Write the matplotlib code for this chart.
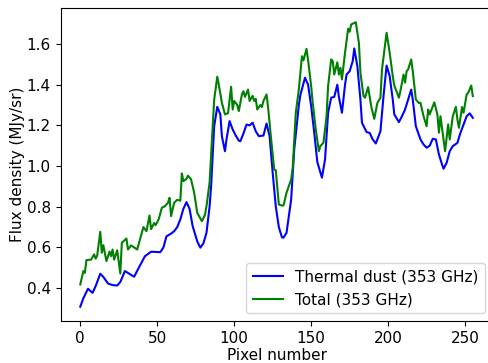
import matplotlib
matplotlib.use("Agg")
import matplotlib.pyplot as plt

# thermal dust (353 GHz): pixel number, flux density
dust_px = [0, 2, 5, 8, 10, 13, 15, 18, 21, 24, 26, 29, 32, 35, 38, 42, 46, 49, 52, 54,
           56, 59, 61, 63, 65, 67, 69, 71, 73, 76, 78, 80, 82, 84, 85, 87, 89, 91, 92, 94,
           95, 97, 99, 101, 103, 104, 106, 108, 110, 112, 114, 116, 119, 121, 123, 125, 127, 129, 131, 132,
           134, 137, 139, 142, 143, 146, 148, 150, 152, 154, 157, 159, 161, 163, 165, 167, 168, 170, 172, 173,
           175, 177, 178, 180, 182, 183, 186, 188, 190, 192, 195, 197, 199, 201, 203, 204, 207, 209, 211, 213,
           215, 216, 218, 221, 223, 225, 227, 229, 231, 233, 235, 236, 238, 240, 242, 245, 247, 249, 251, 253,
           255]
dust_val = [0.309, 0.35, 0.397, 0.377, 0.41, 0.471, 0.455, 0.423, 0.415, 0.413, 0.43, 0.484, 0.47, 0.456, 0.50, 0.557, 0.579, 0.578, 0.577, 0.60,
            0.655, 0.668, 0.680, 0.70, 0.738, 0.79, 0.823, 0.79, 0.705, 0.63, 0.599, 0.62, 0.672, 0.80, 0.901, 1.196, 1.291, 1.254, 1.147, 1.073,
            1.131, 1.221, 1.18, 1.15, 1.125, 1.122, 1.16, 1.204, 1.20, 1.213, 1.171, 1.147, 1.15, 1.209, 1.147, 0.967, 0.803, 0.70, 0.65, 0.648,
            0.672, 0.836, 1.082, 1.30, 1.35, 1.434, 1.40, 1.294, 1.164, 1.02, 0.943, 1.032, 1.262, 1.336, 1.34, 1.40, 1.34, 1.262, 1.40, 1.45,
            1.466, 1.516, 1.578, 1.491, 1.327, 1.213, 1.167, 1.163, 1.131, 1.111, 1.171, 1.344, 1.494, 1.442, 1.327, 1.254, 1.216, 1.245, 1.278, 1.327,
            1.376, 1.327, 1.196, 1.131, 1.106, 1.09, 1.10, 1.134, 1.131, 1.057, 1.008, 0.987, 1.016, 1.073, 1.098, 1.114, 1.164, 1.204, 1.245, 1.259,
            1.237]

# total (353 GHz)
total_px = [0, 2, 3, 4, 7, 9, 10, 11, 13, 14, 15, 17, 19, 20, 21, 22, 24, 26, 27, 30,
            31, 33, 35, 37, 39, 41, 43, 45, 46, 48, 49, 51, 53, 55, 57, 58, 59, 61, 63, 65,
            66, 67, 69, 70, 72, 74, 76, 79, 81, 82, 84, 87, 89, 90, 92, 94, 96, 98, 99, 100,
            102, 103, 105, 106, 107, 109, 110, 112, 113, 114, 115, 117, 118, 119, 121, 122, 124, 126, 127, 129,
            131, 132, 134, 137, 138, 140, 142, 144, 145, 147, 148, 150, 151, 153, 155, 156, 158, 160, 161, 163,
            164, 165, 167, 168, 169, 170, 172, 174, 175, 176, 179, 181, 182, 184, 185, 187, 189, 191, 193, 195,
            196, 199, 201, 203, 204, 207, 208, 210, 211, 212, 213, 215, 216, 218, 220, 221, 223, 225, 226, 227,
            229, 230, 232, 233, 234, 236, 237, 239, 240, 242, 244, 245, 246, 248, 249, 251, 252, 254, 255]
total_val = [0.418, 0.484, 0.475, 0.538, 0.54, 0.566, 0.545, 0.56, 0.677, 0.574, 0.611, 0.533, 0.58, 0.557, 0.59, 0.54, 0.586, 0.472, 0.623, 0.644,
             0.59, 0.61, 0.60, 0.59, 0.646, 0.70, 0.68, 0.757, 0.69, 0.72, 0.71, 0.74, 0.795, 0.803, 0.82, 0.844, 0.754, 0.82, 0.834, 0.83,
             0.964, 0.926, 0.937, 0.953, 0.934, 0.869, 0.77, 0.729, 0.76, 0.803, 0.918, 1.327, 1.439, 1.40, 1.311, 1.254, 1.26, 1.39, 1.278, 1.32,
             1.30, 1.27, 1.352, 1.368, 1.34, 1.376, 1.32, 1.345, 1.32, 1.33, 1.278, 1.30, 1.29, 1.32, 1.352, 1.29, 1.131, 0.983, 0.98, 0.811,
             0.806, 0.806, 0.869, 0.934, 0.99, 1.262, 1.377, 1.54, 1.52, 1.576, 1.52, 1.393, 1.311, 1.18, 1.073, 1.098, 1.115, 1.245, 1.393, 1.524,
             1.516, 1.45, 1.51, 1.45, 1.483, 1.426, 1.557, 1.675, 1.66, 1.696, 1.707, 1.606, 1.458, 1.344, 1.336, 1.388, 1.294, 1.232, 1.31, 1.336,
             1.475, 1.655, 1.557, 1.442, 1.396, 1.336, 1.37, 1.45, 1.41, 1.466, 1.475, 1.524, 1.466, 1.327, 1.31, 1.311, 1.245, 1.196, 1.278, 1.254,
             1.294, 1.313, 1.254, 1.164, 1.245, 1.131, 1.073, 1.205, 1.131, 1.245, 1.291, 1.229, 1.188, 1.29, 1.262, 1.352, 1.36, 1.396, 1.344]

plt.rcParams["font.size"] = 11

fig = plt.figure(figsize=(4.89, 3.63), dpi=100)
# right spine sits just past the image edge, as in the reference
ax = fig.add_axes([0.124, 0.116, 0.883, 0.862])
ax.plot(dust_px, dust_val, color="b", lw=1.5, label="Thermal dust (353 GHz)")
ax.plot(total_px, total_val, color="g", lw=1.5, label="Total (353 GHz)")
ax.set_xlabel("Pixel number", labelpad=2)
ax.set_ylabel("Flux density (MJy/sr)", labelpad=1)
ax.set_yticks([0.4, 0.6, 0.8, 1.0, 1.2, 1.4, 1.6])
ax.legend(loc="lower right")
fig.savefig("out.png", dpi=100)
